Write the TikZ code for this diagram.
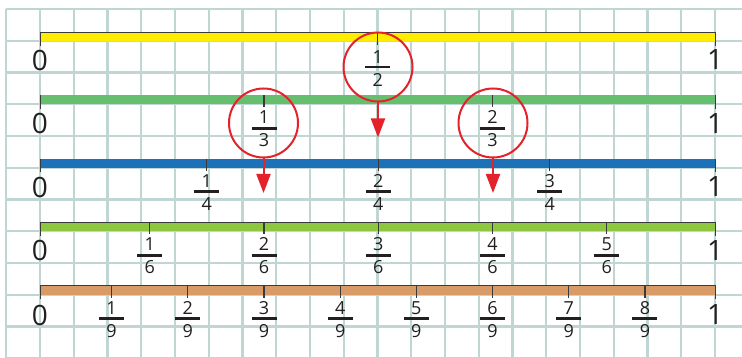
\documentclass[tikz,border=0pt]{standalone}
\usepackage{fontspec}
\setmainfont{Open Sans}
\usetikzlibrary{arrows.meta}
\definecolor{gridc}{HTML}{BFD6D3}
\definecolor{txt}{HTML}{231F20}
\definecolor{edgec}{HTML}{3A3A3A}
\definecolor{yel}{HTML}{FFED00}
\definecolor{grn}{HTML}{66BF6E}
\definecolor{blu}{HTML}{1D71B8}
\definecolor{lgr}{HTML}{8DC63F}
\definecolor{tan}{HTML}{D89B68}
\definecolor{redc}{HTML}{E4222B}
\newcommand\frlabel[5]{%
  \pgfmathsetmacro\xx{378.3+(#4-0.5)*685.7}
  \draw[tickline] (\xx,#5-9) -- (\xx,#5+3);
  \node[fracnum] (#1n) at (\xx,#5+13) {#2};
  \draw[fracbar] (\xx-12.5,#5+24) -- (\xx+12.5,#5+24);
  \node[fracnum] (#1d) at (\xx,#5+36) {#3};
}
\begin{document}
\begin{tikzpicture}[x=1pt,y=-1pt,
  gridline/.style={draw=gridc,line width=2.3pt},
  edgeline/.style={draw=edgec,line width=0.9pt},
  tickline/.style={draw=edgec,line width=1.1pt},
  fracbar/.style={draw=txt,line width=2.8pt},
  fracnum/.style={inner sep=0pt,text=txt,font=\fontsize{18}{20}\selectfont},
  bignum/.style={inner sep=0pt,text=txt,font=\fontsize{28}{30}\selectfont},
  redcirc/.style={circle,draw=redc,line width=2pt,minimum size=69pt,inner sep=0pt},
  redarr/.style={draw=redc,line width=2pt,-{Triangle[length=19pt,width=14pt]}}]
\useasboundingbox (0,0) rectangle (742,358);
\fill[white] (0,0) rectangle (742,358);
% grid
\foreach \k in {0,...,21} \draw[gridline] ({6.25+33.75*\k},9) -- ({6.25+33.75*\k},358.5);
\foreach \k in {0,...,11} \draw[gridline] (6.25,{9+31.75*\k}) -- (742,{9+31.75*\k});
% row 1
\fill[yel] (40,32) rectangle (715,41);
\draw[edgeline] (40,46) -- (40,32) -- (715,32) -- (715,46);
\node[bignum] (z1) at (40,60) {0};
\node[bignum] (o1) at (715,60) {1};
\draw[tickline] (377.8,32) -- (377.8,45);
\node[fracnum] (h1n) at (377.8,57) {1};
\draw[fracbar] (365.3,67) -- (390.3,67);
\node[fracnum] (h1d) at (377.8,79.5) {2};
% row 2
\fill[grn] (40,95.25) rectangle (715,104.25);
\draw[edgeline] (40,109) -- (40,95.25);
\draw[edgeline] (715,109) -- (715,95.25);
\node[bignum] (z2) at (40,123.5) {0};
\node[bignum] (o2) at (715,123.5) {1};
\frlabel{t1}{1}{3}{1/3}{104.25}
\frlabel{t2}{2}{3}{2/3}{104.25}
% row 3
\fill[blu] (40,158.75) rectangle (715,167.75);
\draw[edgeline] (40,172.5) -- (40,158.75);
\draw[edgeline] (715,172.5) -- (715,158.75);
\node[bignum] (z3) at (40,187) {0};
\node[bignum] (o3) at (715,187) {1};
\frlabel{q1}{1}{4}{1/4}{167.75}
\frlabel{q2}{2}{4}{2/4}{167.75}
\frlabel{q3}{3}{4}{3/4}{167.75}
% row 4
\fill[lgr] (40,222.25) rectangle (715,231.25);
\draw[edgeline] (40,236) -- (40,222.25) -- (715,222.25) -- (715,236);
\node[bignum] (z4) at (40,250.5) {0};
\node[bignum] (o4) at (715,250.5) {1};
\foreach \i in {1,...,5} {\frlabel{s\i}{\i}{6}{\i/6}{231.25}}
% row 5
\fill[tan] (40,285.75) rectangle (715,294.75);
\draw[edgeline] (40,299.5) -- (40,285.75) -- (715,285.75) -- (715,299.5);
\node[bignum] (z5) at (40,315) {0};
\node[bignum] (o5) at (715,315) {1};
\foreach \i in {1,...,8} {\frlabel{n\i}{\i}{9}{\i/9}{294.75}}
% circles and arrows
\node[redcirc] (c12) at (378,67) {};
\node[redcirc] (c13) at (263.5,123) {};
\node[redcirc] (c23) at (493,123) {};
\coordinate (a12) at (378,137.5);
\coordinate (a13) at (263.5,193);
\coordinate (a23) at (493,193);
\draw[redarr] (c12.south) -- (a12);
\draw[redarr] (c13.south) -- (a13);
\draw[redarr] (c23.south) -- (a23);
\end{tikzpicture}
\end{document}
